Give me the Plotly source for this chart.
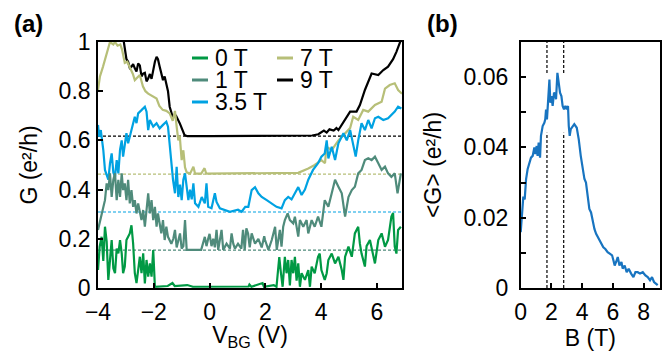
import plotly.graph_objects as go

# ---------------- data: panel (a) ----------------
fields = ["0 T", "1 T", "3.5 T", "7 T", "9 T"]
colors = ["#009944", "#4f8b7b", "#00a2e2", "#b7bf78", "#000000"]
baselines = [0.0, 0.154, 0.309, 0.463, 0.617]   # offset of each curve
vbg_range = [-4.0, 6.9]

g_0T = [(-4.0,0.073),(-3.94,0.168),(-3.87,0.208),(-3.81,0.11),(-3.75,0.249),(-3.69,0.19),(-3.63,0.033),
        (-3.57,0.12),(-3.51,0.195),(-3.45,0.08),(-3.39,0.06),(-3.33,0.16),(-3.27,0.141),(-3.21,0.195),
        (-3.15,0.141),(-3.1,0.06),(-3.04,0.087),(-2.98,0.195),(-2.92,0.21),(-2.86,0.222),(-2.8,0.255),
        (-2.74,0.18),(-2.68,0.06),(-2.62,0.02),(-2.56,0.073),(-2.5,0.127),(-2.44,0.06),(-2.38,0.141),
        (-2.32,0.019),(-2.26,0.114),(-2.2,0.046),(-2.14,0.1),(-2.08,0.046),(-2.02,0.154),(-1.96,0.005),
        (-1.5,0.008),(-1.33,0.02),(-1.25,0.008),(-0.8,0.012),(-0.6,0.005),(1.4,0.006),(1.43,0.014),
        (1.5,0.005),(1.9,0.02),(1.95,0.005),(2.3,0.012),(2.4,0.005),(2.5,0.126),(2.56,0.06),(2.62,0.005),
        (2.7,0.127),(2.76,0.06),(2.82,0.114),(2.88,0.01),(2.94,0.114),(3.0,0.06),(3.06,0.127),(3.12,0.03),
        (3.18,0.1),(3.24,0.005),(3.3,0.06),(3.42,0.033),(3.54,0.073),(3.6,0.005),(3.66,0.087),(3.77,0.06),
        (3.89,0.127),(3.95,0.14),(4.01,0.073),(4.13,0.033),(4.2,0.06),(4.26,0.114),(4.38,0.14),(4.5,0.1),
        (4.62,0.127),(4.74,0.073),(4.8,0.033),(4.86,0.127),(4.98,0.168),(5.1,0.127),(5.21,0.222),
        (5.33,0.249),(5.39,0.18),(5.45,0.14),(5.57,0.087),(5.63,0.17),(5.75,0.195),(5.85,0.14),(5.93,0.1),
        (6.05,0.195),(6.17,0.222),(6.29,0.168),(6.4,0.195),(6.52,0.29),(6.58,0.305),(6.64,0.168),
        (6.7,0.14),(6.76,0.236),(6.86,0.249)]

g_1T = [(-4.0,0.236),(-3.94,0.263),(-3.87,0.303),(-3.75,0.357),(-3.69,0.425),(-3.63,0.398),(-3.57,0.466),
        (-3.51,0.37),(-3.45,0.44),(-3.39,0.466),(-3.33,0.357),(-3.27,0.44),(-3.21,0.37),(-3.15,0.466),
        (-3.1,0.398),(-3.04,0.425),(-2.98,0.357),(-2.92,0.44),(-2.86,0.344),(-2.8,0.398),(-2.74,0.33),
        (-2.68,0.357),(-2.62,0.303),(-2.56,0.344),(-2.44,0.276),(-2.38,0.317),(-2.32,0.249),(-2.26,0.33),
        (-2.2,0.385),(-2.14,0.303),(-2.08,0.357),(-2.02,0.276),(-1.96,0.33),(-1.9,0.249),(-1.85,0.303),
        (-1.73,0.222),(-1.67,0.276),(-1.61,0.195),(-1.55,0.249),(-1.49,0.208),(-1.37,0.18),(-1.3,0.2),
        (-1.24,0.236),(-1.18,0.165),(-1.06,0.222),(-1.0,0.16),(-0.94,0.17),(-0.88,0.276),(-0.82,0.155),
        (-0.5,0.155),(-0.3,0.155),(-0.17,0.208),(-0.11,0.17),(-0.05,0.2),(0.0,0.22),(0.07,0.17),(0.13,0.2),
        (0.19,0.165),(0.25,0.236),(0.31,0.155),(0.43,0.236),(0.49,0.155),(0.61,0.18),(0.73,0.16),
        (0.79,0.222),(0.85,0.18),(0.91,0.16),(1.02,0.18),(1.14,0.16),(1.2,0.236),(1.26,0.155),(1.32,0.243),
        (1.38,0.222),(1.44,0.165),(1.51,0.222),(1.63,0.18),(1.75,0.2),(1.87,0.165),(1.96,0.21),(1.99,0.195),
        (2.11,0.155),(2.23,0.195),(2.35,0.249),(2.41,0.155),(2.52,0.236),(2.58,0.168),(2.64,0.249),
        (2.7,0.276),(2.8,0.303),(2.88,0.276),(3.0,0.263),(3.06,0.29),(3.18,0.209),(3.24,0.276),(3.36,0.249),
        (3.48,0.276),(3.54,0.222),(3.66,0.276),(3.77,0.249),(3.89,0.29),(4.01,0.249),(4.13,0.357),
        (4.26,0.33),(4.38,0.385),(4.5,0.44),(4.62,0.412),(4.74,0.385),(4.86,0.29),(4.98,0.37),(5.1,0.398),
        (5.21,0.412),(5.33,0.466),(5.45,0.48),(5.57,0.52),(5.69,0.527),(5.81,0.52),(5.93,0.534),
        (6.05,0.507),(6.17,0.48),(6.29,0.493),(6.4,0.466),(6.52,0.452),(6.64,0.466),(6.74,0.385),
        (6.86,0.466)]

g_3p5T = [(-4.0,0.663),(-3.96,0.615),(-3.9,0.642),(-3.81,0.561),(-3.75,0.48),(-3.63,0.44),(-3.57,0.506),
          (-3.51,0.547),(-3.45,0.47),(-3.39,0.452),(-3.33,0.52),(-3.27,0.466),(-3.21,0.561),(-3.15,0.60),
          (-3.1,0.534),(-3.04,0.574),(-2.98,0.629),(-2.92,0.588),(-2.8,0.642),(-2.68,0.696),(-2.62,0.67),
          (-2.56,0.71),(-2.44,0.723),(-2.32,0.737),(-2.26,0.717),(-2.2,0.642),(-2.14,0.683),(-2.02,0.656),
          (-1.9,0.67),(-1.79,0.649),(-1.67,0.663),(-1.55,0.676),(-1.49,0.656),(-1.39,0.534),(-1.31,0.44),
          (-1.24,0.385),(-1.18,0.493),(-1.12,0.37),(-1.06,0.42),(-1.0,0.357),(-0.94,0.44),(-0.88,0.466),
          (-0.82,0.40),(-0.76,0.357),(-0.7,0.40),(-0.64,0.36),(-0.58,0.425),(-0.52,0.344),(-0.4,0.33),
          (-0.28,0.37),(-0.17,0.344),(-0.11,0.425),(-0.05,0.33),(0.07,0.324),(0.19,0.385),(0.25,0.35),
          (0.37,0.324),(0.55,0.318),(0.73,0.31),(1.02,0.318),(1.15,0.31),(1.28,0.33),(1.39,0.33),
          (1.51,0.398),(1.63,0.41),(1.75,0.385),(1.87,0.37),(2.05,0.357),(2.23,0.344),(2.4,0.33),
          (2.58,0.324),(2.7,0.357),(2.82,0.37),(2.94,0.36),(3.06,0.385),(3.18,0.41),(3.3,0.378),(3.42,0.40),
          (3.54,0.44),(3.71,0.48),(3.89,0.507),(4.01,0.534),(4.13,0.547),(4.2,0.60),(4.26,0.527),
          (4.38,0.574),(4.5,0.52),(4.62,0.588),(4.8,0.629),(4.92,0.60),(5.04,0.642),(5.15,0.588),
          (5.24,0.534),(5.33,0.60),(5.45,0.67),(5.57,0.642),(5.69,0.683),(5.81,0.649),(5.93,0.69),
          (6.05,0.696),(6.23,0.683),(6.4,0.69),(6.52,0.703),(6.64,0.717),(6.76,0.737),(6.88,0.73)]

g_7T = [(-4.0,0.805),(-3.93,0.86),(-3.82,0.90),(-3.68,0.955),(-3.57,1.0),(-3.45,0.99),(-3.39,1.0),
        (-3.3,0.985),(-3.2,0.99),(-3.14,0.97),(-3.04,0.915),(-2.95,0.92),(-2.86,0.90),(-2.75,0.87),
        (-2.68,0.845),(-2.5,0.866),(-2.39,0.82),(-2.3,0.80),(-2.2,0.79),(-2.03,0.78),(-1.9,0.77),
        (-1.8,0.74),(-1.68,0.724),(-1.55,0.72),(-1.43,0.71),(-1.32,0.68),(-1.24,0.72),(-1.18,0.656),
        (-1.12,0.60),(-1.07,0.62),(-1.0,0.52),(-0.94,0.56),(-0.88,0.49),(-0.82,0.47),(-0.7,0.465),
        (-0.58,0.493),(-0.52,0.465),(-0.3,0.465),(-0.18,0.487),(-0.12,0.465),(0.2,0.465),(1.0,0.465),
        (2.0,0.465),(3.0,0.465),(3.18,0.468),(3.54,0.486),(3.77,0.50),(4.01,0.52),(4.14,0.507),
        (4.19,0.575),(4.38,0.56),(4.62,0.60),(4.86,0.63),(5.04,0.65),(5.15,0.696),(5.33,0.683),
        (5.51,0.724),(5.69,0.717),(5.93,0.744),(6.17,0.757),(6.29,0.81),(6.46,0.825),(6.64,0.832),
        (6.76,0.805),(6.9,0.79)]

g_9T = [(-4.0,1.1),(-3.5,1.1),(-3.1,1.02),(-3.04,0.98),(-2.98,0.93),(-2.92,0.92),(-2.86,0.895),
        (-2.8,0.90),(-2.74,0.91),(-2.68,0.893),(-2.62,0.88),(-2.56,0.913),(-2.5,0.905),(-2.44,0.86),
        (-2.38,0.872),(-2.32,0.875),(-2.26,0.84),(-2.2,0.852),(-2.14,0.87),(-2.08,0.85),(-2.02,0.886),
        (-1.96,0.92),(-1.9,0.94),(-1.85,0.93),(-1.79,0.90),(-1.73,0.87),(-1.67,0.845),(-1.61,0.86),
        (-1.55,0.832),(-1.49,0.80),(-1.43,0.737),(-1.32,0.695),(-1.2,0.70),(-1.07,0.67),(-0.9,0.622),
        (-0.8,0.617),(0.0,0.617),(1.0,0.617),(2.0,0.617),(3.0,0.617),(3.68,0.62),(3.9,0.625),(4.04,0.635),
        (4.1,0.64),(4.2,0.632),(4.3,0.645),(4.45,0.64),(4.55,0.65),(4.62,0.642),(4.86,0.683),(5.04,0.717),
        (5.27,0.717),(5.39,0.744),(5.57,0.805),(5.81,0.872),(6.05,0.866),(6.23,0.886),(6.4,0.90),
        (6.58,0.93),(6.7,0.96),(6.82,1.0),(6.9,1.02)]

curves_a = [g_0T, g_1T, g_3p5T, g_7T, g_9T]

# ---------------- data: panel (b) ----------------
b_field = [0.0,0.08,0.17,0.26,0.35,0.45,0.56,0.67,0.78,0.89,0.96,1.04,1.1,1.17,1.26,1.32,1.43,1.54,1.6,
           1.65,1.71,1.78,1.87,1.93,2.0,2.08,2.17,2.25,2.3,2.39,2.47,2.56,2.65,2.73,2.82,2.91,3.0,3.08,3.13,
           3.19,3.26,3.34,3.49,3.65,3.78,3.91,4.04,4.15,4.25,4.36,4.47,4.58,4.69,4.8,4.91,5.01,5.12,5.23,
           5.38,5.51,5.66,5.82,5.95,6.04,6.12,6.21,6.32,6.43,6.56,6.64,6.77,6.9,7.03,7.19,7.34,7.47,7.62,
           7.77,7.95,8.12,8.27,8.42,8.55,8.68,8.81,8.92]
b_meanG = [0.0159,0.0215,0.026,0.0252,0.031,0.0338,0.0357,0.0371,0.0376,0.040,0.0381,0.0404,0.0376,0.0414,
           0.0371,0.0433,0.0461,0.047,0.048,0.0508,0.048,0.0537,0.0593,0.0527,0.0546,0.0518,0.0556,0.0552,
           0.0537,0.0612,0.0584,0.0556,0.0546,0.0518,0.0508,0.0518,0.0508,0.0518,0.0461,0.0433,0.0452,
           0.0456,0.0466,0.0456,0.0423,0.0376,0.0338,0.031,0.030,0.0253,0.0225,0.0215,0.0187,0.0168,0.0154,
           0.0145,0.0135,0.0126,0.0116,0.0111,0.0102,0.0097,0.0093,0.0078,0.0064,0.0074,0.0088,0.0064,
           0.0074,0.0055,0.0064,0.0045,0.0055,0.0041,0.0031,0.0045,0.0045,0.0041,0.0045,0.0036,0.0031,
           0.0022,0.0031,0.0017,0.0012,0.0008]
b_markers = [1.71, 2.80]          # dashed vertical lines (T)
b_gap = [0.0442, 0.0612]          # dashed lines interrupted here

# ---------------- figure ----------------
W, H = 670, 351
FONT = "Liberation Sans, Arial, sans-serif"
FS = 23

fig = go.Figure()

# dashed baselines (under curves)
for b, c in zip(baselines[1:], colors[1:]):
    fig.add_trace(go.Scatter(x=vbg_range, y=[b, b], mode="lines",
                             line=dict(color=c, width=1.2, dash="3px,2px"),
                             xaxis="x", yaxis="y", showlegend=False, hoverinfo="skip"))

for name, c, data in reversed(list(zip(fields, colors, curves_a))):
    fig.add_trace(go.Scatter(x=[p[0] for p in data], y=[p[1] for p in data], mode="lines",
                             name=name, line=dict(color=c, width=2.2),
                             xaxis="x", yaxis="y", showlegend=False))

fig.add_trace(go.Scatter(x=b_field, y=b_meanG, mode="lines", line=dict(color="#1874c0", width=2.2),
                         xaxis="x2", yaxis="y2", showlegend=False))

shapes = []
for bx in b_markers:
    for y0, y1 in [(0, b_gap[0]), (b_gap[1], 0.07)]:
        shapes.append(dict(type="line", xref="x2", yref="y2", x0=bx, x1=bx, y0=y0, y1=y1,
                           line=dict(color="black", width=1.2, dash="3px,2px")))

# manual legend
def px(x): return x / W
def py(y): return 1 - y / H
leg_pos = [(192, 58), (192, 80), (192, 102), (277, 58), (277, 80)]
annotations = []
for (lx, ly), name, c in zip(leg_pos, fields, colors):
    shapes.append(dict(type="line", xref="paper", yref="paper", x0=px(lx), x1=px(lx + 16),
                       y0=py(ly), y1=py(ly), line=dict(color=c, width=3)))
    annotations.append(dict(text=name, xref="paper", yref="paper", x=px(lx + 21), y=py(ly),
                            xanchor="left", yanchor="middle", showarrow=False,
                            font=dict(size=FS, family=FONT, color="black")))

annotations.append(dict(text="<b>(a)</b>", xref="paper", yref="paper", x=px(28), y=py(24),
                        xanchor="center", yanchor="middle", showarrow=False,
                        font=dict(size=24, family=FONT, color="black")))
annotations.append(dict(text="<b>(b)</b>", xref="paper", yref="paper", x=px(442), y=py(24),
                        xanchor="center", yanchor="middle", showarrow=False,
                        font=dict(size=24, family=FONT, color="black")))

ydom = [1 - 288 / H, 1 - 42 / H]
axis_common = dict(showline=True, linecolor="black", linewidth=1.6, mirror=True, ticks="inside",
                   ticklen=5, tickwidth=1.5, tickcolor="black", showgrid=False, zeroline=False,
                   tickfont=dict(size=FS, family=FONT, color="black"), automargin=False)

fig.update_layout(
    width=W, height=H, margin=dict(l=0, r=0, t=0, b=0),
    paper_bgcolor="white", plot_bgcolor="white",
    font=dict(family=FONT, size=FS, color="black"),
    xaxis=dict(domain=[98 / W, 402 / W], anchor="y", range=vbg_range,
               tickvals=[-4, -2, 0, 2, 4, 6], ticklabelstandoff=3,
               title=dict(text="V<sub>BG</sub> (V)", font=dict(size=FS, family=FONT)),
               **axis_common),
    yaxis=dict(domain=ydom, anchor="x", range=[0, 1],
               tickvals=[0, 0.2, 0.4, 0.6, 0.8, 1], ticktext=["0", "0.2", "0.4", "0.6", "0.8", "1"],
               ticklabelstandoff=1,
               title=dict(text="G (e²/h)", font=dict(size=FS, family=FONT)),
               **axis_common),
    xaxis2=dict(domain=[520.7 / W, 660 / W], anchor="y2", range=[0, 9.07],
                tickvals=[0, 2, 4, 6, 8], ticklabelstandoff=3,
                title=dict(text="B (T)", font=dict(size=FS, family=FONT)),
                **axis_common),
    yaxis2=dict(domain=ydom, anchor="x2", range=[0, 0.07],
                tickvals=[0, 0.02, 0.04, 0.06], ticktext=["0", "0.02", "0.04", "0.06"],
                minor=dict(tickvals=[0.01, 0.03, 0.05], ticks="inside", ticklen=5, tickwidth=1.5,
                           tickcolor="black", showgrid=False),
                ticklabelstandoff=6,
                title=dict(text="<G> (e²/h)", font=dict(size=FS, family=FONT)),
                **axis_common),
    shapes=shapes, annotations=annotations,
)

fig.write_html("out.html", config={"displayModeBar": False},
               post_script="document.body.style.margin='0';document.body.style.overflow='hidden';")
